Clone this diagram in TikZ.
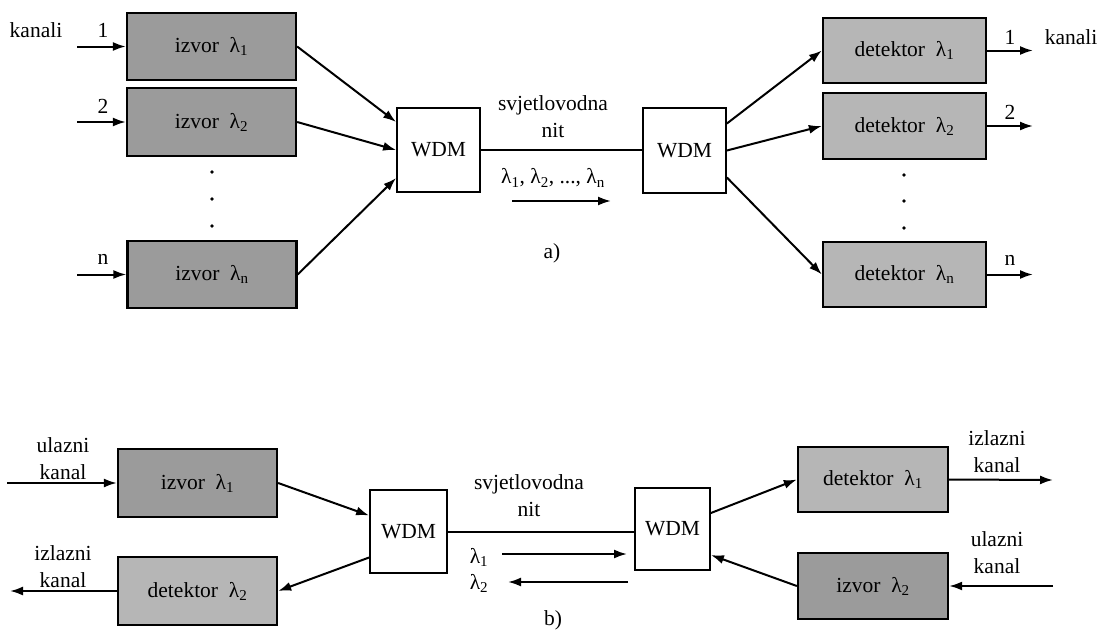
\documentclass[tikz,border=0pt]{standalone}
\usepackage{fontspec}
\setmainfont{Liberation Serif}
\usetikzlibrary{arrows.meta,calc}
\definecolor{izvorgray}{RGB}{155,155,155}
\definecolor{detgray}{RGB}{182,182,182}
\begin{document}
\begin{tikzpicture}[x=1pt,y=-1pt,
 txt/.style={font=\fontsize{21.5}{27}\selectfont, inner sep=0pt, align=center},
 izv/.style={draw, line width=2.3pt, fill=izvorgray, txt},
 det/.style={draw, line width=2.3pt, fill=detgray, txt},
 wdm/.style={draw, line width=1.8pt, fill=white, txt},
 arr/.style={line width=2pt, -{Latex[length=13pt,width=9pt]}},
 ln/.style={line width=2pt},
 dot/.style={circle, fill, inner sep=0pt, minimum size=3.6pt}]
\useasboundingbox (0,0) rectangle (1107,640);

% ---------- a) ----------
\node[izv, minimum width=169pt, minimum height=67pt] (i1) at (211.5,46.5) {izvor~~λ\textsubscript{1}};
\node[izv, minimum width=169pt, minimum height=68pt] (i2) at (211.5,122) {izvor~~λ\textsubscript{2}};
\node[izv, minimum width=169pt, minimum height=67pt] (in) at (212,274.5) {izvor~~λ\textsubscript{n}};
\node[dot] (da1) at (212,172) {};
\node[dot] (da2) at (212,199) {};
\node[dot] (da3) at (212,226) {};

\coordinate (lin) at (77,0);
\draw[arr] (lin |- i1.west) -- (i1.west);
\draw[arr] (lin |- i2.west) -- (i2.west);
\draw[arr] (lin |- in.west) -- (in.west);
\node[txt] (k1) at (103,30) {1};
\node[txt] (k2) at (103,106) {2};
\node[txt] (kn) at (103,259) {n};
\node[txt] (kanL) at (36,30) {kanali};

\node[wdm, minimum width=83pt, minimum height=84pt] (w1) at (438.5,150) {WDM};
\node[wdm, minimum width=83pt, minimum height=85pt] (w2) at (684.5,150.5) {WDM};
\draw[ln] (w1.east) -- (w1.east -| w2.west);

\draw[arr] (i1.east) -- ($(w1.west)+(0,-28)$);
\draw[arr] (i2.east) -- (w1.west);
\draw[arr] (in.east) -- ($(w1.west)+(0,28)$);

\node[txt] (sva) at (553,116.5) {svjetlovodna\\nit};
\node[txt] (lama) at (553,178) {λ\textsubscript{1}, λ\textsubscript{2}, ..., λ\textsubscript{n}};
\coordinate (la1) at (512,201);
\coordinate (la2) at (611,201);
\draw[arr] (la1) -- (la2);
\node[txt] (capa) at (552,253) {a)};

\node[det, minimum width=163pt, minimum height=65pt] (d1) at (904.5,50.5) {detektor~~λ\textsubscript{1}};
\node[det, minimum width=163pt, minimum height=66pt] (d2) at (904.5,126) {detektor~~λ\textsubscript{2}};
\node[det, minimum width=163pt, minimum height=65pt] (dn) at (904.5,274.5) {detektor~~λ\textsubscript{n}};
\node[dot] (db1) at (904,175) {};
\node[dot] (db2) at (904,201) {};
\node[dot] (db3) at (904,228) {};

\draw[arr] ($(w2.east)+(0,-27)$) -- (d1.west);
\draw[arr] (w2.east) -- (d2.west);
\draw[arr] ($(w2.east)+(0,27)$) -- (dn.west);

\coordinate (rout) at (1033,0);
\draw[arr] (d1.east) -- (d1.east -| rout);
\draw[arr] (d2.east) -- (d2.east -| rout);
\draw[arr] (dn.east) -- (dn.east -| rout);
\node[txt] (r1) at (1010,37) {1};
\node[txt] (r2) at (1010,112) {2};
\node[txt] (rn) at (1010,260) {n};
\node[txt] (kanR) at (1071,37) {kanali};

% ---------- b) ----------
\node[izv, minimum width=159pt, minimum height=68pt] (bi1) at (197.5,483) {izvor~~λ\textsubscript{1}};
\node[det, minimum width=159pt, minimum height=68pt] (bd2) at (197.5,591) {detektor~~λ\textsubscript{2}};
\node[wdm, minimum width=77pt, minimum height=83pt] (w3) at (408.5,531.5) {WDM};
\node[wdm, minimum width=75pt, minimum height=82pt] (w4) at (672.5,529) {WDM};
\node[det, minimum width=150pt, minimum height=65pt] (bd1) at (873,479.5) {detektor~~λ\textsubscript{1}};
\node[izv, minimum width=150pt, minimum height=66pt] (bi2) at (873,586) {izvor~~λ\textsubscript{2}};

\coordinate (blin) at (7,483);
\coordinate (blout) at (10,591);
\draw[arr] (blin) -- (bi1.west);
\draw[arr] (bd2.west) -- (blout);
\node[txt] (ulL) at (63,459) {ulazni\\kanal};
\node[txt] (izL) at (63,567) {izlazni\\kanal};

\draw[arr] (bi1.east) -- ($(w3.west)+(0,-16)$);
\draw[arr] ($(w3.west)+(0,26)$) -- (bd2.east);
\draw[ln] (w3.east) -- (w3.east -| w4.west);
\node[txt] (svb) at (529,496) {svjetlovodna\\nit};

\coordinate (l1a) at (502,554);
\coordinate (l1b) at (627,554);
\coordinate (l2a) at (628,582);
\coordinate (l2b) at (508,582);
\draw[arr] (l1a) -- (l1b);
\draw[arr] (l2a) -- (l2b);
\node[txt] (lb1) at (479,557) {λ\textsubscript{1}};
\node[txt] (lb2) at (479,583) {λ\textsubscript{2}};
\node[txt] (capb) at (553,620) {b)};

\draw[arr] ($(w4.east)+(0,-16)$) -- (bd1.west);
\draw[arr] (bi2.west) -- ($(w4.east)+(0,26)$);

\coordinate (brout) at (1053,480);
\coordinate (brin) at (1053,586);
\draw[arr] (bd1.east) -- (brout);
\draw[arr] (brin) -- (bi2.east);
\node[txt] (izR) at (997,452) {izlazni\\kanal};
\node[txt] (ulR) at (997,553) {ulazni\\kanal};
\end{tikzpicture}
\end{document}
